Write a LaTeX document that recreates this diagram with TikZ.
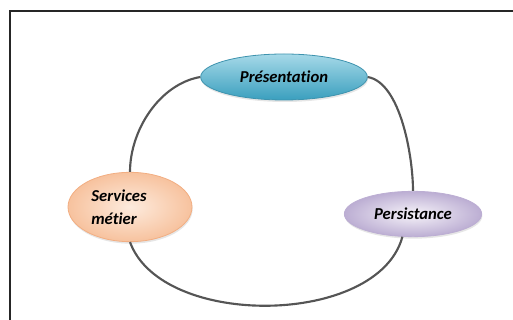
\documentclass[tikz,border=0pt]{standalone}
\usepackage{fontspec}
\setmainfont{Carlito}[Ligatures=NoCommon]
\usepackage{tikz}
\usetikzlibrary{shapes.geometric,shadows}
\definecolor{presHaut}{HTML}{A6D9E8}
\definecolor{presBas}{HTML}{3A9FBE}
\definecolor{presBord}{HTML}{3E93AE}
\definecolor{servCentre}{HTML}{FDEBDD}
\definecolor{servBord}{HTML}{F7C29E}
\definecolor{servTrait}{HTML}{F2AE82}
\definecolor{persCentre}{HTML}{F6F3F9}
\definecolor{persBord}{HTML}{BCAED3}
\definecolor{lienGris}{HTML}{555555}

\begin{document}
\begin{tikzpicture}[x=0.75pt,y=0.75pt,
  couche/.style={ellipse,line width=0.6pt,
    font=\fontsize{12.5}{17}\selectfont\bfseries\itshape,
    drop shadow={opacity=0.2,shadow xshift=0.5pt,shadow yshift=-1.5pt}},
  lien/.style={draw=lienGris,line width=1.6pt}]
\useasboundingbox (0,0) rectangle (513,320);
\begin{scope}
\clip (0,0) rectangle (513,320);
\draw[line width=1.5pt,black!85] (10,-10) |- (525,309);
\end{scope}
\node[couche,draw=presBord,top color=presHaut,bottom color=presBas,
  minimum width=125pt,minimum height=34.5pt] (pres) at (284,243) {Présentation};
\node[couche,draw=servTrait,inner color=servCentre,outer color=servBord,
  minimum width=93pt,minimum height=52pt,inner sep=2pt,
  text width=58pt,align=left] (serv) at (130,113) {Services\\métier};
\node[couche,draw=persBord,inner color=persCentre,outer color=persBord,
  minimum width=103pt,minimum height=34pt] (pers) at (413,106) {Persistance};
\draw[lien] (serv.north) to[out=90,in=190,looseness=0.9] (pres.west);
\draw[lien] (pres.east) to[out=-10,in=90,looseness=0.7] (pers.north);
\draw[lien] (serv.south) to[out=-70,in=-105,looseness=0.87] (pers.245);
\end{tikzpicture}
\end{document}
